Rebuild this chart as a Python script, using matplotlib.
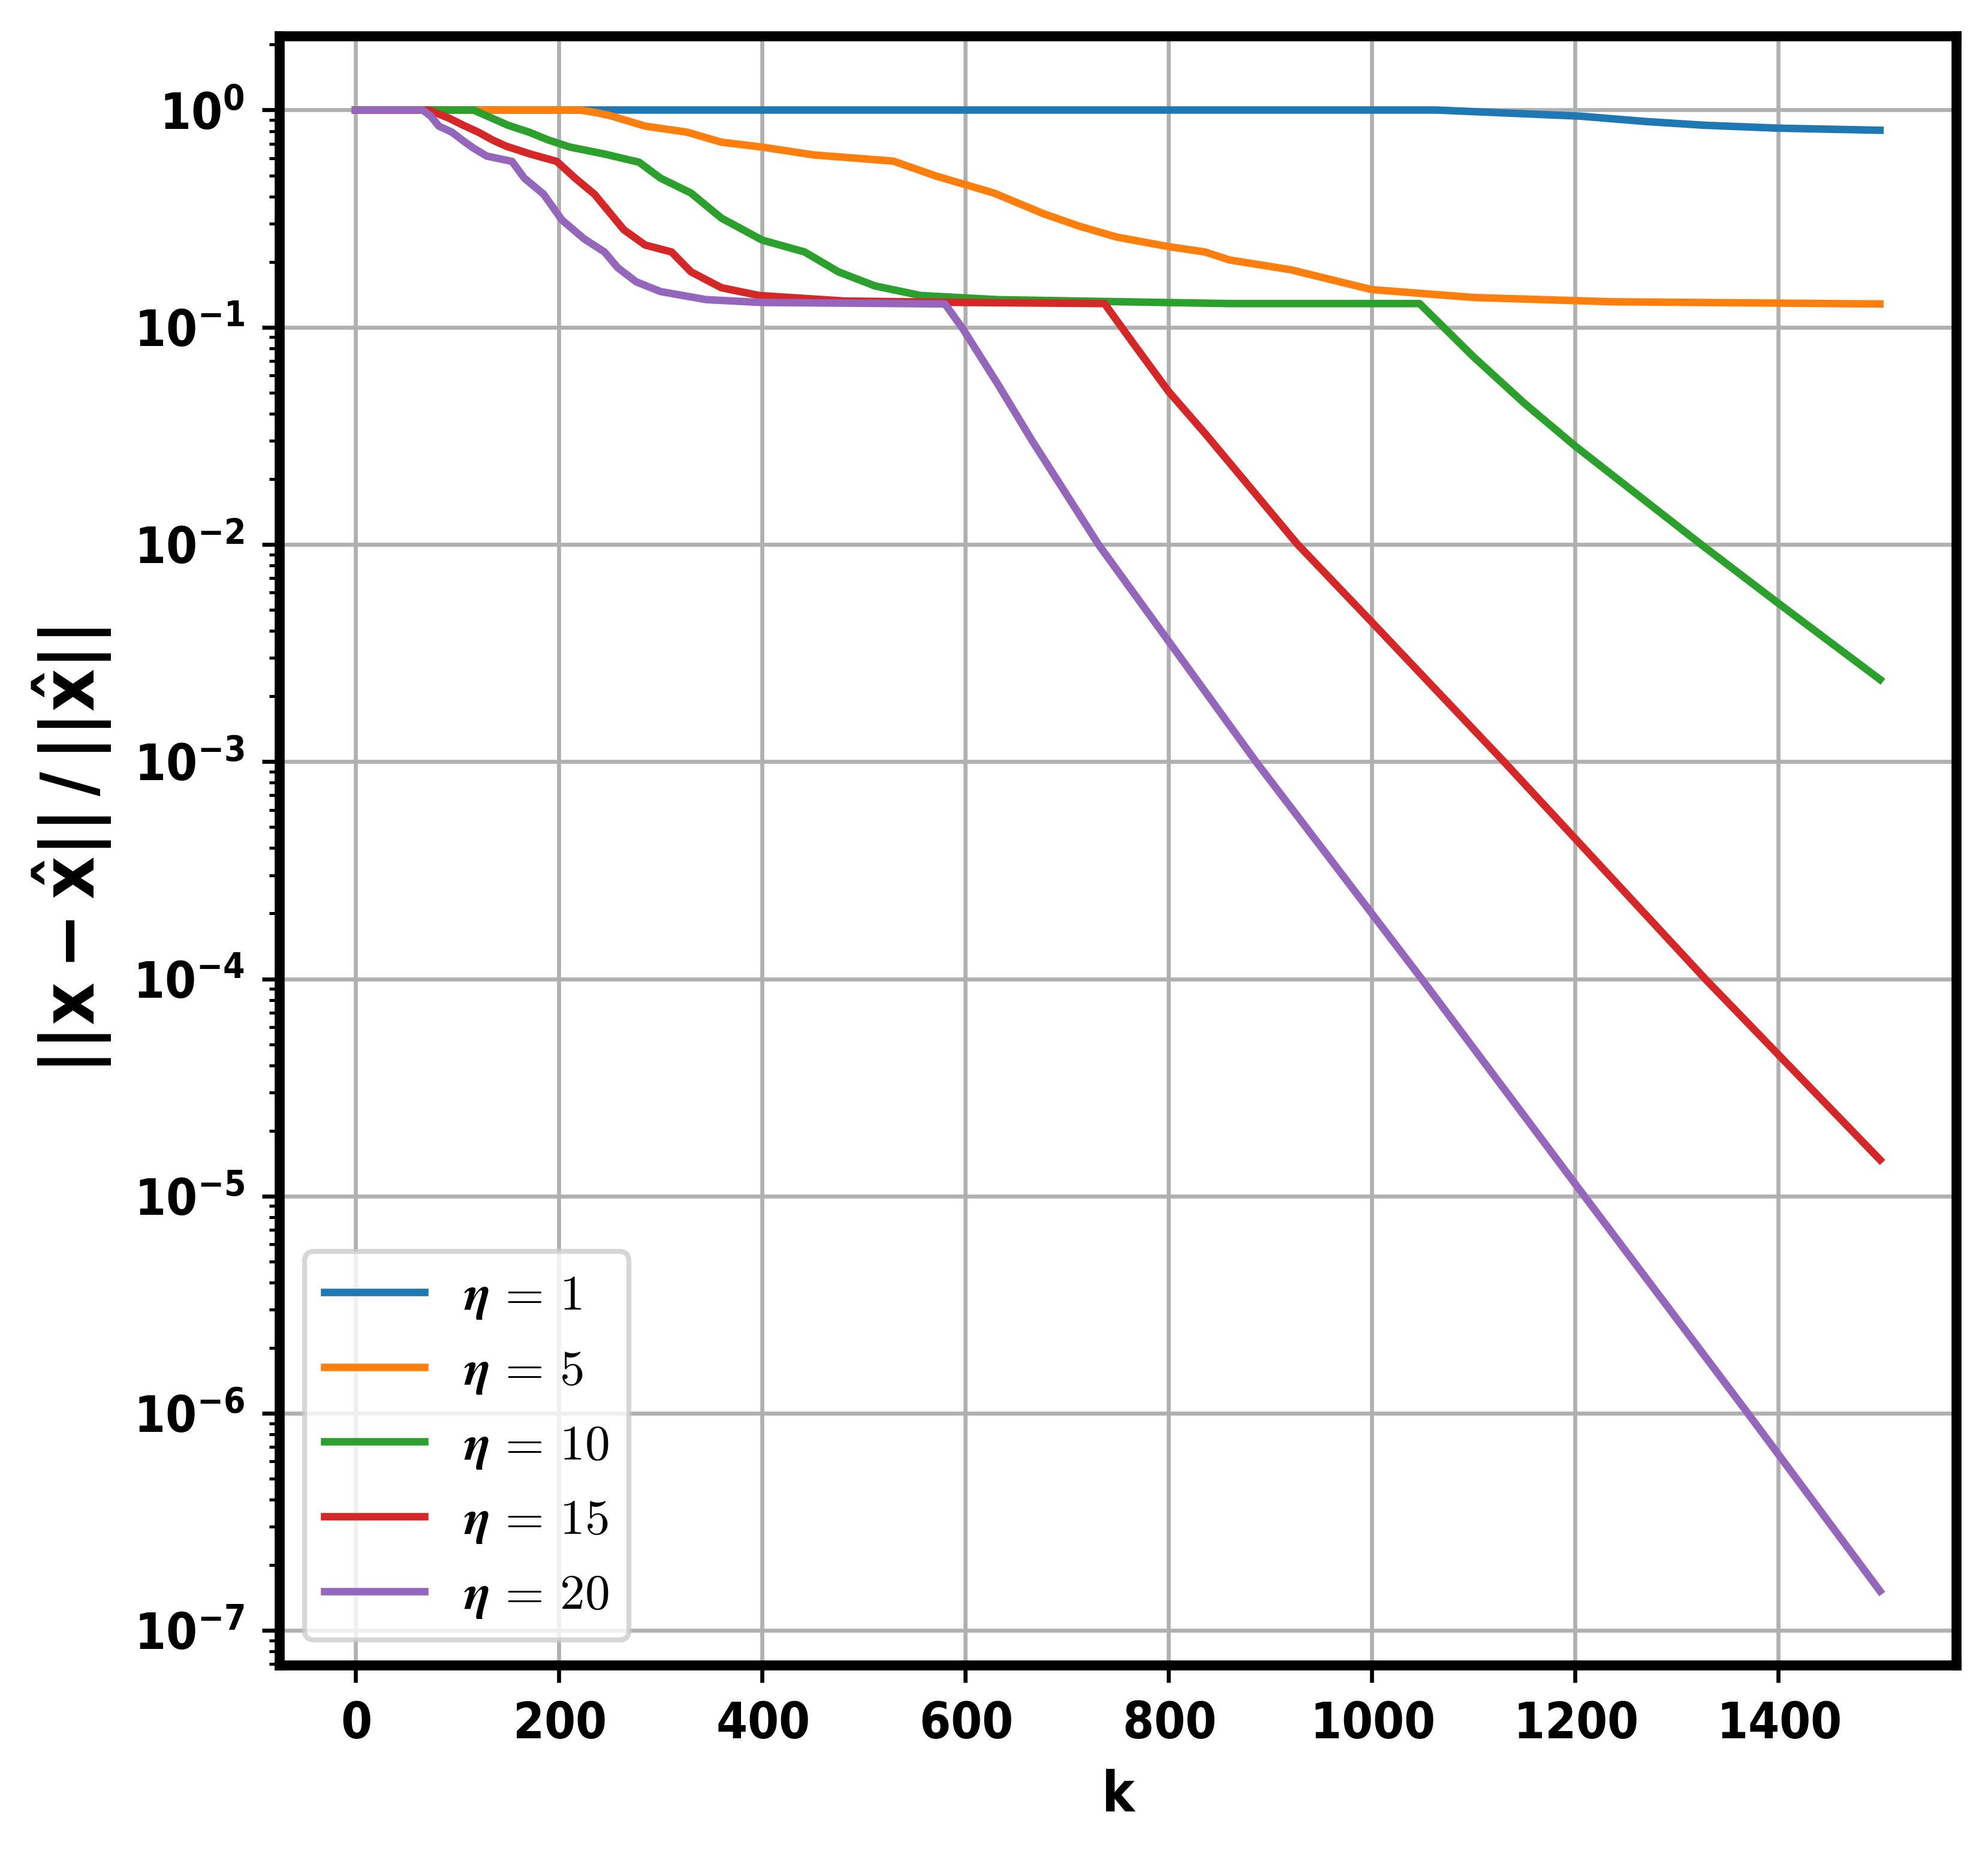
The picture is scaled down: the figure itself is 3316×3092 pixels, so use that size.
import matplotlib
matplotlib.use('Agg')
import matplotlib.pyplot as plt
from matplotlib.font_manager import FontProperties

# iteration k and relative error
k_eta1 = [0, 1063, 1205, 1270, 1327, 1400, 1500]
err_eta1 = [1.0, 1.0, 0.937, 0.885, 0.851, 0.825, 0.807]

k_eta5 = [0, 221, 240, 252, 285, 326, 360, 400, 451, 529, 571, 628, 677, 712,
          749, 800, 836, 860, 920, 1000, 1101, 1236, 1500]
err_eta5 = [1.0, 1.0, 0.966, 0.938, 0.843, 0.791, 0.711, 0.675, 0.621, 0.582,
            0.497, 0.415, 0.333, 0.292, 0.26, 0.235, 0.222, 0.204, 0.184, 0.149,
            0.137, 0.131, 0.128]

k_eta10 = [0, 116, 132, 150, 171, 190, 211, 245, 279, 300, 330, 360, 400, 442,
           475, 511, 556, 631, 712, 860, 1047, 1100, 1150, 1200, 1324, 1400, 1500]
err_eta10 = [1.0, 1.0, 0.927, 0.851, 0.79, 0.727, 0.675, 0.627, 0.575, 0.486,
             0.415, 0.318, 0.252, 0.222, 0.18, 0.155, 0.14, 0.134, 0.132, 0.1285,
             0.1285, 0.0731, 0.0447, 0.0284, 0.01, 5.36e-3, 2.39e-3]

k_eta15 = [0, 72, 92, 106, 121, 135, 148, 172, 198, 216, 235, 264, 285, 311,
           330, 360, 397, 481, 599, 737, 764, 800, 836, 927, 1000, 1130, 1328, 1500]
err_eta15 = [1.0, 1.0, 0.917, 0.851, 0.79, 0.727, 0.682, 0.627, 0.58, 0.486, 0.41,
             0.281, 0.239, 0.222, 0.18, 0.152, 0.14, 0.132, 0.13, 0.1285,
             0.0859, 0.0506, 0.0324, 0.01, 4.39e-3, 1.0e-3, 1.0e-4, 1.47e-5]

k_eta20 = [0, 66, 74, 82, 95, 105, 116, 129, 154, 166, 185, 203, 225, 245, 258,
           276, 300, 345, 400, 580, 598, 632, 666, 731, 886, 1049, 1200, 1370, 1500]
err_eta20 = [1.0, 1.0, 0.937, 0.843, 0.79, 0.727, 0.668, 0.614, 0.58, 0.486, 0.41,
             0.312, 0.255, 0.222, 0.188, 0.162, 0.146, 0.134, 0.13, 0.128, 0.0977,
             0.0547, 0.0299, 0.01, 1.0e-3, 1.0e-4, 1.14e-5, 1.0e-6, 1.52e-7]

etas = [1, 5, 10, 15, 20]
series = [(k_eta1, err_eta1), (k_eta5, err_eta5), (k_eta10, err_eta10),
          (k_eta15, err_eta15), (k_eta20, err_eta20)]

plt.rcParams['font.family'] = ['DejaVu Sans']
plt.rcParams['font.weight'] = 'bold'
plt.rcParams['font.stretch'] = 'condensed'
plt.rcParams['axes.formatter.use_mathtext'] = True

fig = plt.figure(figsize=(3316 / 600, 3092 / 600), dpi=600)
ax = fig.add_axes([0.1405, 0.1019, 0.8435, 0.8787])

for (k, err), eta in zip(series, etas):
    ax.plot(k, err, lw=1.5, label=r'$\boldsymbol{\eta}\,=\,%d$' % eta)

ax.set_yscale('log')
ax.grid(True)
for sp in ax.spines.values():
    sp.set_linewidth(2)
ax.tick_params(labelsize=10)

ax.set_xlabel('k', fontsize=11, fontweight='bold')
ax.set_ylabel(r'$||\mathbf{x}-\hat{\mathbf{x}}||\,/\,||\hat{\mathbf{x}}||$',
              fontsize=14.8, math_fontfamily='dejavusans')

ax.legend(loc='lower left', prop=FontProperties(size=10, math_fontfamily='cm'))

fig.savefig('out.png', dpi=600)
print('saved out.png')
